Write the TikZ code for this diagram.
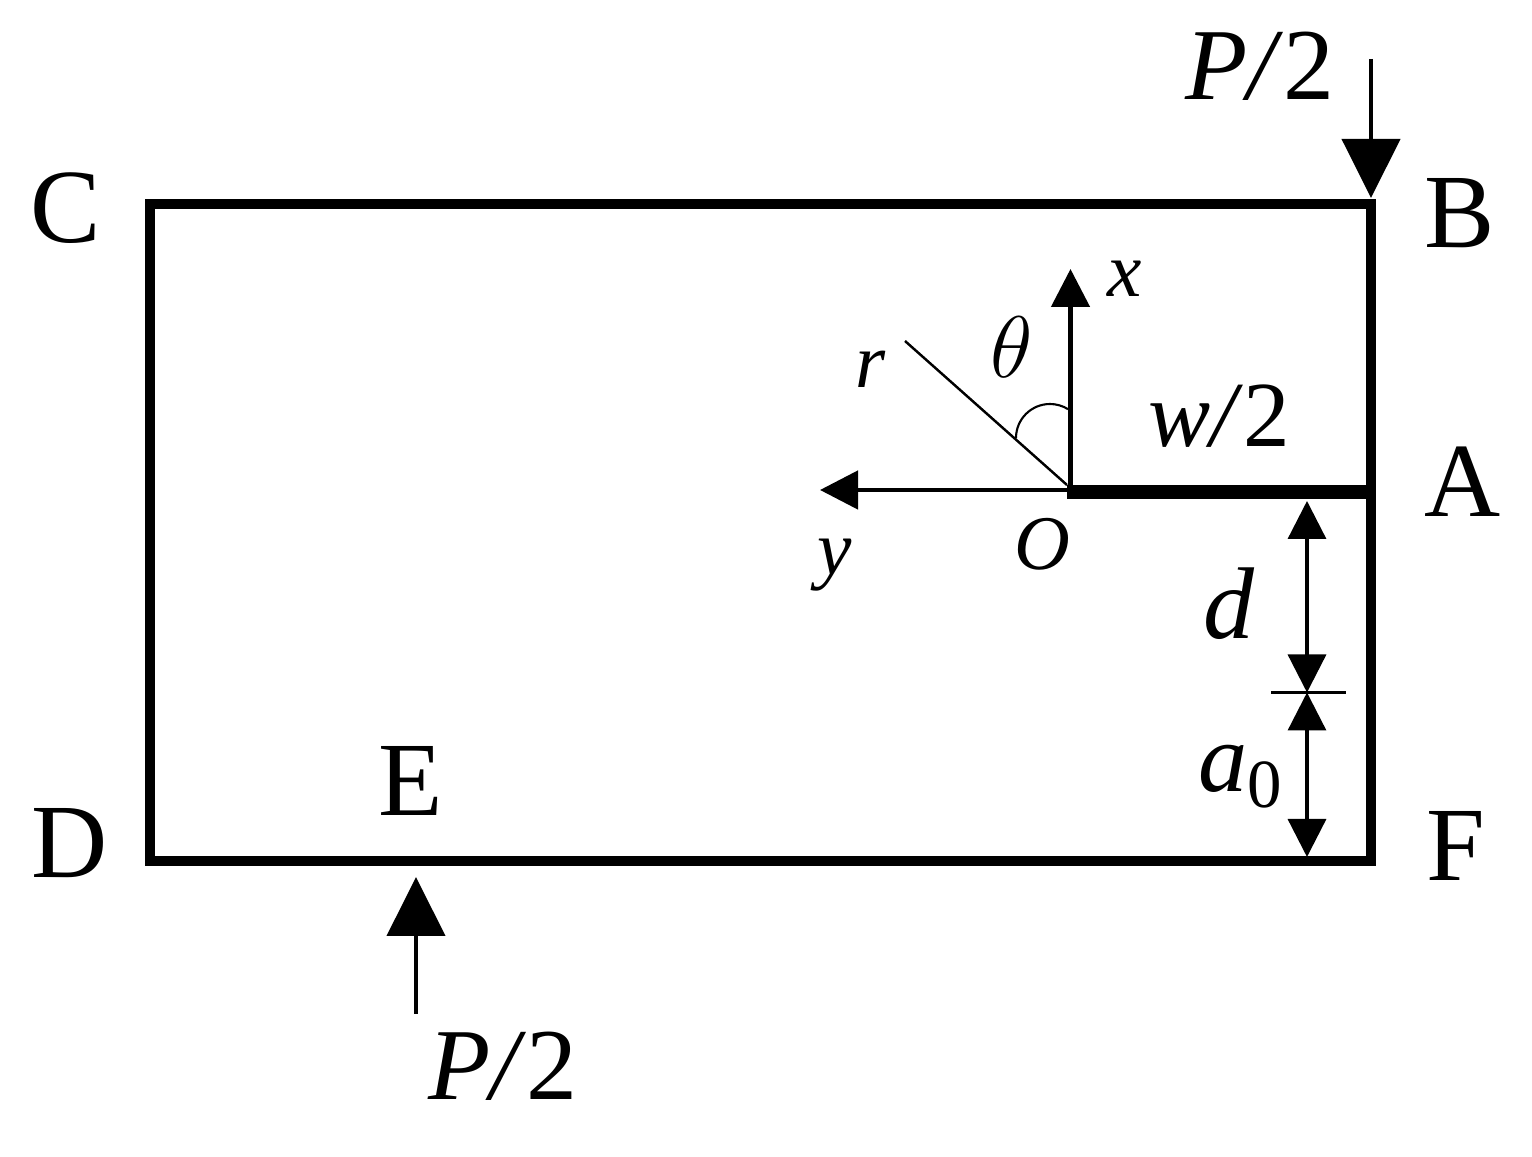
\documentclass[tikz,border=0pt]{standalone}
\usepackage{fontspec}
\setmainfont{Liberation Serif}
\usetikzlibrary{arrows.meta, positioning, calc}
\tikzset{
  biglabel/.style={inner sep=0pt, font=\fontsize{30}{32}\selectfont},
  axislabel/.style={inner sep=0pt, font=\fontsize{22}{26}\selectfont\itshape},
  dimlabel/.style={inner sep=0pt, font=\fontsize{29}{32}\selectfont\itshape},
  loadarrow/.style={-{Triangle[length=0.59cm, width=0.58cm]}, line width=1.15pt},
  axisarrow/.style={-{Triangle[length=0.38cm, width=0.38cm]}, line width=1.35pt},
  dimarrow/.style={{Triangle[length=0.38cm, width=0.38cm]}-{Triangle[length=0.38cm, width=0.38cm]}, line width=0.95pt}
}
\begin{document}
\begin{tikzpicture}
  \useasboundingbox (0,0) rectangle (15.32,11.57);
  % Corners of the plate
  \coordinate (cornerB) at (13.71,9.53);
  \coordinate (cornerC) at (1.50,9.53);
  \coordinate (cornerD) at (1.50,2.96);
  \coordinate (cornerF) at (13.71,2.96);
  \coordinate (mouth) at (13.71,6.65);
  \coordinate (tip) at (10.67,6.65);
  \coordinate (origin) at (10.705,6.67);
  \draw[line width=2.85pt, line join=miter] (cornerB) -- (cornerC) -- (cornerD) -- (cornerF) -- cycle;
  \draw[line width=4pt] (tip) -- (mouth);

  % Corner labels
  \node[biglabel] (labelC) at (0.66,9.49) {C};
  \node[biglabel] (labelB) at (14.60,9.44) {B};
  \node[biglabel] (labelA) at (14.63,6.755) {A};
  \node[biglabel] (labelD) at (0.70,3.14) {D};
  \node[biglabel] (labelF) at (14.56,3.11) {F};
  \node[biglabel] (labelE) at (4.11,3.76) {E};

  % Loads
  \node[dimlabel] (loadtop) at (12.60,10.91) {P/\textup{2}};
  \node[dimlabel] (loadbot) at (5.03,0.91) {P/\textup{2}};
  \coordinate (topstart) at (13.71,10.98);
  \coordinate (topend) at (13.71,9.59);
  \coordinate (botstart) at (4.16,1.43);
  \coordinate (botend) at (4.16,2.80);
  \draw[loadarrow] (topstart) -- (topend);
  \draw[loadarrow] (botstart) -- (botend);

  % Axes at the crack tip
  \coordinate (xend) at (10.705,8.88);
  \coordinate (yend) at (8.20,6.67);
  \coordinate (rend) at (9.05,8.16);
  \coordinate (rstart) at (10.67,6.72);
  \coordinate (arcstart) at (10.16,7.19);
  \draw[axisarrow] (origin) -- (xend);
  \draw[axisarrow] (origin) -- (yend);
  \draw[line width=0.7pt] (rstart) -- (rend);
  \draw[line width=0.6pt] (arcstart) arc[start angle=180, end angle=58, radius=0.34];
  \node[axislabel] (labelx) at (11.25,8.78) {x};
  \node[axislabel] (labely) at (8.35,5.92) {y};
  \node[axislabel] (labelr) at (8.71,7.88) {r};
  \node[axislabel] (labelO) at (10.42,6.13) {O};
  \node[axislabel, font=\fontsize{24}{26}\selectfont] (labeltheta) at (10.12,8.10) {$\theta$};
  \node[dimlabel, anchor=base, font=\fontsize{26.5}{30}\selectfont\itshape] (labelw) at (12.19,7.10) {w/\textup{2}};

  % Dimensions
  \coordinate (dtop) at (13.07,6.56);
  \coordinate (dmid) at (13.07,4.645);
  \coordinate (dbot) at (13.07,3.00);
  \coordinate (tickleft) at (12.71,4.645);
  \coordinate (tickright) at (13.46,4.645);
  \draw[dimarrow] (dtop) -- (dmid);
  \draw[dimarrow] (dmid) -- (dbot);
  \draw[line width=0.85pt] (tickleft) -- (tickright);
  \node[dimlabel] (labeld) at (12.29,5.53) {d};
  \node[dimlabel, font=\fontsize{28}{32}\selectfont\itshape] (labela) at (12.41,3.80) {a\textup{\textsubscript{0}}};
\end{tikzpicture}
\end{document}
